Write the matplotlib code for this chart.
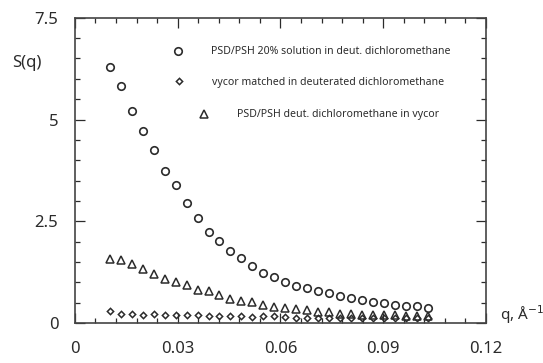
import matplotlib
matplotlib.use("Agg")
import matplotlib.pyplot as plt
from matplotlib.ticker import MultipleLocator, FixedLocator

plt.rcParams['font.family'] = ['Noto Sans', 'DejaVu Sans']

q = [0.0102, 0.0134, 0.0166, 0.0198, 0.0230, 0.0262, 0.0294, 0.0326, 0.0358, 0.0390,
     0.0422, 0.0454, 0.0486, 0.0518, 0.0550, 0.0582, 0.0614, 0.0646, 0.0678, 0.0710,
     0.0742, 0.0774, 0.0806, 0.0838, 0.0870, 0.0902, 0.0934, 0.0966, 0.0998, 0.1030]

s_solution = [6.29, 5.82, 5.22, 4.72, 4.26, 3.74, 3.39, 2.96, 2.57, 2.24,
              2.01, 1.76, 1.60, 1.40, 1.23, 1.12, 1.00, 0.92, 0.85, 0.78,
              0.74, 0.66, 0.62, 0.56, 0.52, 0.49, 0.45, 0.43, 0.42, 0.38]

s_vycor_matched = [0.30, 0.22, 0.22, 0.20, 0.23, 0.20, 0.21, 0.20, 0.19, 0.17,
                   0.17, 0.17, 0.17, 0.16, 0.17, 0.17, 0.15, 0.13, 0.12, 0.13,
                   0.13, 0.12, 0.12, 0.12, 0.12, 0.12, 0.12, 0.12, 0.12, 0.12]

s_in_vycor = [1.58, 1.54, 1.45, 1.34, 1.21, 1.09, 1.01, 0.93, 0.82, 0.78,
              0.69, 0.60, 0.54, 0.51, 0.44, 0.40, 0.36, 0.34, 0.31, 0.28,
              0.26, 0.23, 0.22, 0.21, 0.20, 0.20, 0.19, 0.18, 0.18, 0.17]

labels = ["PSD/PSH 20% solution in deut. dichloromethane",
          "vycor matched in deuterated dichloromethane",
          "PSD/PSH deut. dichloromethane in vycor"]

x_ticks = [0, 0.03, 0.06, 0.09, 0.12]
x_ticklabels = ["0", "0.03", "0.06", "0.09", "0.12"]
y_ticks = [0, 2.5, 5, 7.5]
y_ticklabels = ["0", "2.5", "5", "7.5"]

ink = '#2b2b2b'

fig = plt.figure(figsize=(5.43, 3.63), dpi=100)
ax = fig.add_axes([0.138, 0.110, 0.757, 0.841])

h1, = ax.plot(q, s_solution, linestyle='none', marker='o', markersize=5.4,
              markerfacecolor='none', markeredgecolor=ink, markeredgewidth=1.2)
h2, = ax.plot(q, s_vycor_matched, linestyle='none', marker='D', markersize=3.2,
              markerfacecolor='none', markeredgecolor=ink, markeredgewidth=1.1)
h3, = ax.plot(q, s_in_vycor, linestyle='none', marker='^', markersize=5.8,
              markerfacecolor='none', markeredgecolor=ink, markeredgewidth=1.1)

ax.set_xlim(0, 0.12)
ax.set_ylim(0, 7.5)
ax.xaxis.set_major_locator(FixedLocator(x_ticks))
ax.set_xticklabels(x_ticklabels)
ax.yaxis.set_major_locator(FixedLocator(y_ticks))
ax.set_yticklabels(y_ticklabels)
ax.xaxis.set_minor_locator(MultipleLocator(0.006))
ax.yaxis.set_minor_locator(MultipleLocator(0.5))

ax.tick_params(which='both', direction='in', top=True, right=True, color=ink,
               width=0.9)
ax.tick_params(which='major', length=7)
ax.tick_params(which='minor', length=3.5)
ax.tick_params(axis='x', which='major', pad=13, labelsize=12, labelcolor=ink)
ax.tick_params(axis='y', which='major', pad=12, labelsize=12, labelcolor=ink)
for sp in ax.spines.values():
    sp.set_linewidth(1.2)
    sp.set_color('#444444')

fig.text(12 / 543, 1 - 63 / 363, "S(q)", fontsize=12, color=ink,
         ha='left', va='center')
fig.text(500 / 543, 1 - 315 / 363, "q, Å$^{-1}$", fontsize=11, color=ink,
         ha='left', va='center')

# legend entries: one small legend per series
leg_pos = [(173 / 543, 1 - 52 / 363), (174 / 543, 1 - 82 / 363), (199 / 543, 1 - 115 / 363)]
handles = [h1, h2, h3]
for h, lab, pos in zip(handles, labels, leg_pos):
    fig.legend([h], [lab], loc='center left', bbox_to_anchor=pos,
               frameon=False, prop={'size': 7.6, 'weight': 'semibold'},
               handlelength=1.0, handletextpad=2.6, borderpad=0,
               borderaxespad=0, labelcolor=ink)

fig.savefig("out.png", dpi=100)
